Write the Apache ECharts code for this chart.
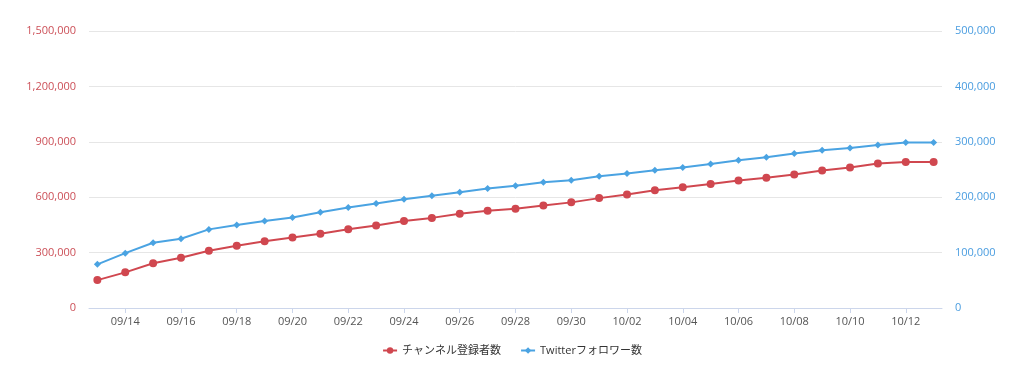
<!DOCTYPE html>
<html>
<head>
<meta charset="utf-8">
<script src="https://cdn.jsdelivr.net/npm/echarts@6/dist/echarts.min.js"></script>
<style>html,body{margin:0;padding:0;background:#fff;}#c{width:1024px;height:374px;}</style>
</head>
<body>
<div id="c"></div>
<script>
const categories = ['09/13','09/14','09/15','09/16','09/17','09/18','09/19','09/20','09/21','09/22','09/23','09/24','09/25','09/26','09/27','09/28','09/29','09/30','10/01','10/02','10/03','10/04','10/05','10/06','10/07','10/08','10/09','10/10','10/11','10/12','10/13'];
const channelSubs = [151000,193000,242000,272000,310000,337000,361000,382000,402000,426000,447000,471000,488000,510000,526000,537000,555000,572000,595000,615000,638000,654000,671000,690000,705000,723000,745000,761000,783000,790000,790000];
const twitterFollowers = [78800,99000,117800,125000,141900,150000,156900,163500,173000,181500,188700,196500,202500,209000,215800,220500,227000,230800,238000,242800,248800,253600,260000,266800,272000,279000,284900,289000,294400,298700,298700];
const leftTicks = [0,300000,600000,900000,1200000,1500000];
const rightTicks = [0,100000,200000,300000,400000,500000];
const seriesNames = ['チャンネル登録者数','Twitterフォロワー数'];

const labelIdx = categories.map((c,i)=>i).filter(i=>i%2===1);
const font = '"Open Sans", "Noto Sans CJK JP", sans-serif';
const fmt = v => v.toLocaleString('en-US');

const chart = echarts.init(document.getElementById('c'));
chart.setOption({
  animation:false,
  textStyle:{fontFamily:font},
  grid:{left:89,right:82,top:31,bottom:66,containLabel:false},
  legend:{
    bottom:13,left:'center',itemGap:19,itemWidth:14,itemHeight:8,
    textStyle:{color:'#333',fontSize:11,fontFamily:font},
    data:seriesNames
  },
  xAxis:{
    type:'value',min:-0.3,max:30.3,
    splitLine:{show:false},
    axisLine:{show:true,lineStyle:{color:'#ccd6eb'}},
    axisTick:{show:true,length:5,lineStyle:{color:'#ccd6eb'},customValues:labelIdx},
    axisLabel:{color:'#555',fontSize:11,margin:8,customValues:labelIdx,formatter:v=>categories[Math.round(v)]||''}
  },
  yAxis:[
    {type:'value',min:leftTicks[0],max:leftTicks[leftTicks.length-1],interval:leftTicks[1]-leftTicks[0],
     axisLine:{show:false},axisTick:{show:false},
     splitLine:{lineStyle:{color:'#e6e6e6'}},
     axisLabel:{color:'#cc5058',fontSize:11,margin:13,formatter:fmt}},
    {type:'value',min:rightTicks[0],max:rightTicks[rightTicks.length-1],interval:rightTicks[1]-rightTicks[0],
     position:'right',axisLine:{show:false},axisTick:{show:false},
     splitLine:{show:false},
     axisLabel:{color:'#4a9de0',fontSize:11,margin:13,formatter:fmt}}
  ],
  series:[
    {name:seriesNames[0],type:'line',yAxisIndex:0,
     data:channelSubs.map((v,i)=>[i,v]),
     symbol:'circle',symbolSize:8,
     itemStyle:{color:'#d0474f'},lineStyle:{color:'#d0474f',width:2}},
    {name:seriesNames[1],type:'line',yAxisIndex:1,
     data:twitterFollowers.map((v,i)=>[i,v]),
     symbol:'diamond',symbolSize:7,
     itemStyle:{color:'#4aa3e2'},lineStyle:{color:'#4aa3e2',width:2}}
  ]
});
</script>
</body>
</html>
